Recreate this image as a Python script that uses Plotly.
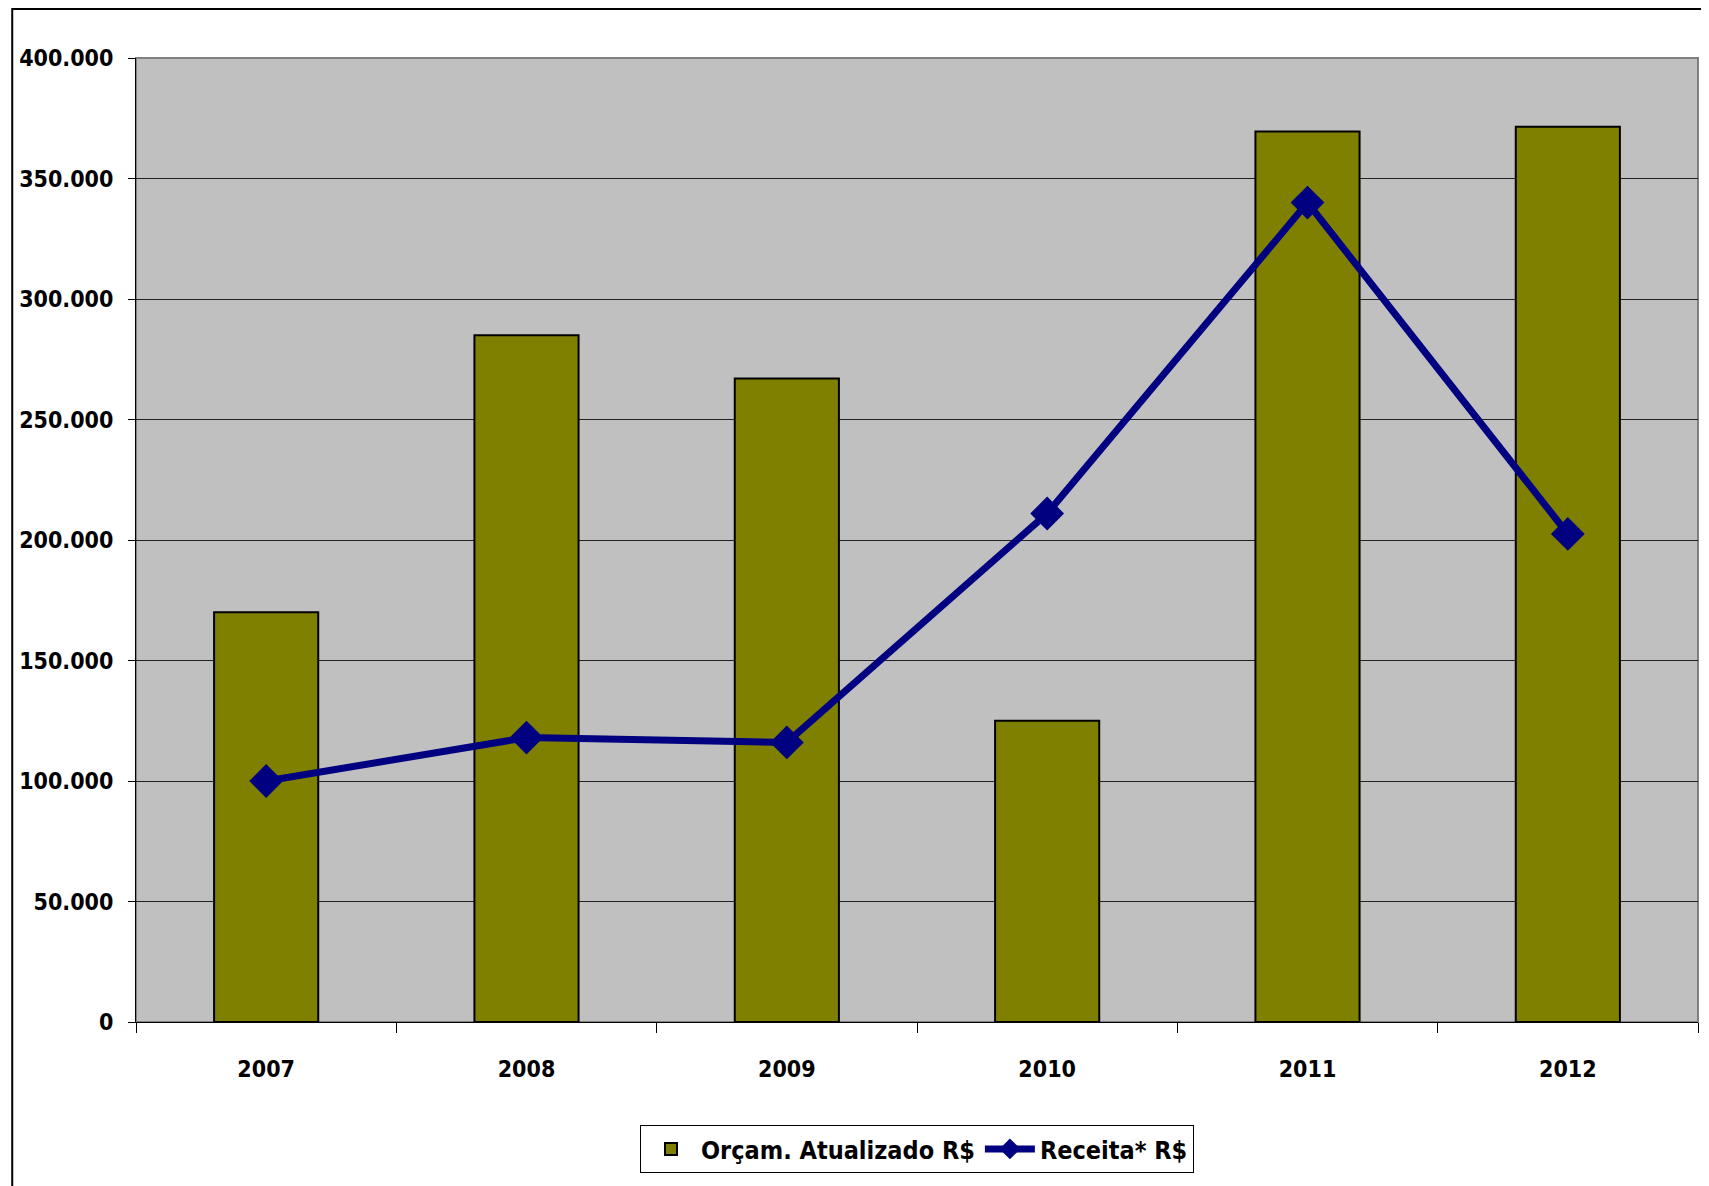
import plotly.graph_objects as go

years = ["2007", "2008", "2009", "2010", "2011", "2012"]
orcamento = [170000, 285000, 267000, 125000, 369500, 371500]
receita = [100000, 118000, 116000, 211000, 340000, 202500]
y_ticks = [0, 50000, 100000, 150000, 200000, 250000, 300000, 350000, 400000]

FONT = "DejaVu Sans Condensed, Liberation Sans, Arial, sans-serif"
FS = 23

fig = go.Figure()
fig.add_trace(go.Bar(
    x=years, y=orcamento, name="Orçam. Atualizado R$",
    marker=dict(color="#808000", line=dict(color="#000000", width=2)),
))
fig.add_trace(go.Scatter(
    x=years, y=receita, name="Receita* R$", mode="lines+markers",
    line=dict(color="#000080", width=7),
    marker=dict(symbol="diamond", size=26, color="#000080"),
))

L, T, W, H = 125, 50, 1701, 1178
fig.update_layout(
    width=W, height=H,
    margin=dict(l=L, r=11, t=T, b=164),
    paper_bgcolor="#FFFFFF",
    plot_bgcolor="#C0C0C0",
    bargap=0.6,
    separators=",.",
    font=dict(family=FONT, size=FS, color="#000000"),
    showlegend=True,
    legend=dict(
        orientation="h", x=0.5, xanchor="center", y=-0.107, yanchor="top",
        bgcolor="#FFFFFF", bordercolor="#000000", borderwidth=1,
        font=dict(family=FONT, size=25, color="#000000", weight="bold"),
        traceorder="normal", itemwidth=50,
    ),
    xaxis=dict(
        type="category", showgrid=False, showline=True, linecolor="#000000", linewidth=1,
        ticks="outside", ticklen=10, tickcolor="#000000", tickson="boundaries",
        tickfont=dict(family=FONT, size=FS, color="#000000", weight="bold"),
        ticklabelstandoff=26, zeroline=False,
    ),
    yaxis=dict(
        range=[0, 400000], tickvals=y_ticks, tickformat=",d",
        showgrid=True, gridcolor="#222222", gridwidth=1,
        showline=True, linecolor="#000000", linewidth=1,
        ticks="outside", ticklen=7, tickcolor="#000000",
        tickfont=dict(family=FONT, size=FS, color="#000000", weight="bold"),
        ticklabelstandoff=10, zeroline=False,
    ),
    shapes=[
        dict(type="rect", xref="paper", yref="paper",
             x0=0, x1=1, y0=0, y1=1, line=dict(color="#808080", width=2), layer="below"),
        dict(type="rect", xref="paper", yref="paper",
             x0=(1 - L) / 1565, x1=1.01, y0=-0.2, y1=(964 + T - 1) / 964,
             line=dict(color="#000000", width=2)),
    ],
)

fig.write_html("out.html")
